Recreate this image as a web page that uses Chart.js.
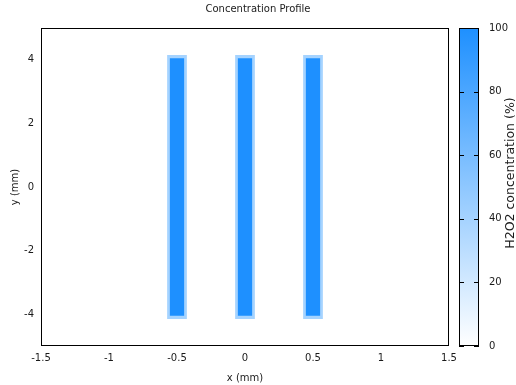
<!DOCTYPE html>
<html>
<head>
<meta charset="utf-8">
<script src="https://cdn.jsdelivr.net/npm/chart.js@4/dist/chart.umd.min.js"></script>
<style>
  html, body { margin: 0; padding: 0; background: #fff; }
  #wrap { width: 516px; height: 385px; }
</style>
</head>
<body>
<div id="wrap"><canvas id="profile" width="516" height="385"></canvas></div>
<script>
// channels: centre x (mm), half length in y (mm), width (mm), concentration (%)
const channelX = [-0.5, 0, 0.5];
const coreHalfLength = 4.05;
const haloHalfLength = 4.15;
const coreWidth = 0.105;
const haloWidth = 0.145;
const coreConc = 100;
const haloConc = 40;

// axis ticks
const xTicks = [-1.5, -1, -0.5, 0, 0.5, 1, 1.5];
const yTicks = [-4, -2, 0, 2, 4];
const cbTicks = [0, 20, 40, 60, 80, 100];

const TEXT = '#1a1a1a';
const LOW = [255, 255, 255];
const HIGH = [30, 144, 255];

// white -> dodgerblue colour map
function concColor(c) {
  const t = Math.max(0, Math.min(1, c / 100));
  const ch = LOW.map((lo, i) => Math.round(lo + (HIGH[i] - lo) * t));
  return `rgb(${ch[0]},${ch[1]},${ch[2]})`;
}

// bar width is a fraction of the gap between channels
const spacing = Math.min(...channelX.slice(1).map((v, i) => v - channelX[i]));

function channelBars(label, halfLen, width, conc) {
  return {
    label,
    data: channelX.map(x => ({ x, y: [-halfLen, halfLen] })),
    backgroundColor: concColor(conc),
    borderWidth: 0,
    grouped: false,
    categoryPercentage: 1,
    barPercentage: width / spacing,
    xAxisID: 'x',
    yAxisID: 'y'
  };
}

const setTicks = list => scale => { scale.ticks = list.map(v => ({ value: v })); };

// fixed axis box sizes, no extra room for edge labels
const fixWidth = w => s => { s.width = w; s.paddingTop = 0; s.paddingBottom = 0; };

// frame around the plot + colour bar on the right
const framePlugin = {
  id: 'frame',
  afterDatasetsDraw(chart) {
    const { ctx, chartArea: a } = chart;
    ctx.save();
    ctx.strokeStyle = '#000';
    ctx.lineWidth = 1;
    ctx.strokeRect(a.left + 0.5, a.top + 0.5, a.right - a.left - 1, a.bottom - a.top - 1);
    ctx.restore();
  },
  afterDraw(chart) {
    const { ctx, chartArea: a } = chart;
    const cb = chart.scales.cb;
    const x0 = a.right + 10, w = 20;
    const yTop = cb.getPixelForValue(100), yBot = cb.getPixelForValue(0);
    ctx.save();
    const g = ctx.createLinearGradient(0, yBot, 0, yTop);
    g.addColorStop(0, concColor(0));
    g.addColorStop(1, concColor(100));
    ctx.fillStyle = g;
    ctx.fillRect(x0, yTop, w, yBot - yTop);

    ctx.strokeStyle = '#000';
    ctx.lineWidth = 1;
    ctx.beginPath();
    cb.ticks.forEach(t => {
      const y = Math.round(cb.getPixelForValue(t.value)) + 0.5;
      ctx.moveTo(x0, y); ctx.lineTo(x0 + 5, y);
      ctx.moveTo(x0 + w, y); ctx.lineTo(x0 + w - 5, y);
    });
    ctx.stroke();
    ctx.strokeRect(x0 + 0.5, yTop + 0.5, w - 1, yBot - yTop - 1);

    ctx.fillStyle = TEXT;
    ctx.font = '12.5px "DejaVu Sans"';
    ctx.textAlign = 'center';
    ctx.textBaseline = 'middle';
    ctx.translate(a.right + 62, (yTop + yBot) / 2 - 14);
    ctx.rotate(-Math.PI / 2);
    ctx.fillText('H2O2 concentration (%)', 0, 0);
    ctx.restore();
  }
};

Chart.defaults.font.family = '"DejaVu Sans", sans-serif';
Chart.defaults.font.size = 10;
Chart.defaults.color = TEXT;

new Chart(document.getElementById('profile'), {
  type: 'bar',
  data: {
    datasets: [
      channelBars('core', coreHalfLength, coreWidth, coreConc),
      channelBars('halo', haloHalfLength, haloWidth, haloConc)
    ]
  },
  options: {
    responsive: false,
    animation: false,
    devicePixelRatio: 1,
    layout: { padding: 0, autoPadding: false },
    plugins: {
      legend: { display: false },
      tooltip: { enabled: false },
      title: {
        display: true,
        text: 'Concentration Profile',
        color: TEXT,
        font: { size: 10, weight: 'normal' },
        padding: { top: 3, bottom: 13 }
      }
    },
    scales: {
      x: {
        type: 'linear',
        min: -1.5, max: 1.5,
        offset: false,
        afterBuildTicks: setTicks(xTicks),
        afterFit: s => { s.height = 39; s.paddingLeft = 0; s.paddingRight = 0; },
        grid: { display: false, drawTicks: false, offset: false },
        border: { display: false },
        ticks: { padding: 6, maxRotation: 0, autoSkip: false, callback: v => String(v) },
        title: { display: true, text: 'x (mm)', padding: { top: 0, bottom: 1 } }
      },
      y: {
        type: 'linear',
        position: 'left',
        min: -5, max: 5,
        afterBuildTicks: setTicks(yTicks),
        afterFit: fixWidth(41),
        grid: { display: false, drawTicks: false },
        border: { display: false },
        ticks: { padding: 7, callback: v => String(v) },
        title: { display: true, text: 'y (mm)', padding: { top: 9, bottom: 0 } }
      },
      cb: {
        type: 'linear',
        position: 'right',
        min: 0, max: 100,
        afterBuildTicks: setTicks(cbTicks),
        afterFit: fixWidth(67),
        grid: { display: false, drawTicks: false },
        border: { display: false },
        ticks: { padding: 40, callback: v => String(v) }
      }
    }
  },
  plugins: [framePlugin]
});
</script>
</body>
</html>
